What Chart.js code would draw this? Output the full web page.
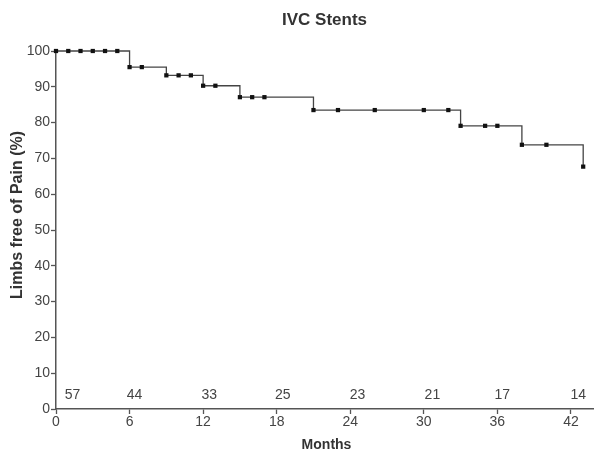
<!DOCTYPE html>
<html>
<head>
<meta charset="utf-8">
<script src="https://cdn.jsdelivr.net/npm/chart.js@4/dist/chart.umd.min.js"></script>
<style>
  body { margin: 0; background: #fff; overflow: hidden; }
</style>
</head>
<body>
<canvas id="myChart" width="597" height="454"></canvas>
<script>
// survival curve (months, % limbs free of pain)
const months = [0, 1, 2, 3, 4, 5, 6, 7, 9, 10, 11, 12, 13,
                15, 16, 17, 21, 23, 26, 30, 32, 33, 35, 36,
                38, 40, 43];
const painFree = [100, 100, 100, 100, 100, 100, 95.5, 95.5, 93.2, 93.2, 93.2, 90.3, 90.3,
                  87.1, 87.1, 87.1, 83.5, 83.5, 83.5, 83.5, 83.5, 79.1, 79.1, 79.1,
                  73.8, 73.8, 67.7];
// numbers at risk along the bottom
const riskMonths = [1.35, 6.4, 12.5, 18.5, 24.6, 30.7, 36.4, 42.6];
const riskCounts = [57, 44, 33, 25, 23, 21, 17, 14];
const riskLevel = 4;
const xTicks = [0, 6, 12, 18, 24, 30, 36, 42];

const textColor = '#444';
const fontName = "'Liberation Sans', Arial, sans-serif";

// title, axis titles and the at-risk numbers
const textPlugin = {
    id: 'texts',
    afterDraw(chart) {
        const ctx = chart.ctx;
        const xs = chart.scales.x;
        const ys = chart.scales.y;
        const mid = (xs.left + chart.width) / 2;
        ctx.save();
        ctx.fillStyle = '#333';
        ctx.textAlign = 'center';
        ctx.textBaseline = 'middle';
        ctx.font = "bold 17px " + fontName;
        ctx.fillText('IVC Stents', mid - 2, 20);
        ctx.font = "bold 14px " + fontName;
        ctx.fillText('Months', mid, 445);
        ctx.save();
        ctx.translate(17.5, 215);
        ctx.rotate(-Math.PI / 2);
        ctx.font = "bold 16px " + fontName;
        ctx.fillText('Limbs free of Pain (%)', 0, 0);
        ctx.restore();
        ctx.fillStyle = textColor;
        ctx.font = "14px " + fontName;
        for (let i = 0; i < riskCounts.length; i++) {
            ctx.fillText(String(riskCounts[i]), xs.getPixelForValue(riskMonths[i]), ys.getPixelForValue(riskLevel));
        }
        ctx.restore();
    }
};

const points = months.map((m, i) => ({x: m, y: painFree[i]}));

new Chart(document.getElementById('myChart'), {
    type: 'line',
    data: {
        datasets: [{
            data: points,
            stepped: 'before',
            borderColor: '#444',
            borderWidth: 1.3,
            pointStyle: 'rect',
            pointRadius: 3,
            pointBackgroundColor: '#111',
            pointBorderColor: '#111',
            pointBorderWidth: 0,
            clip: false
        }]
    },
    options: {
        responsive: false,
        animation: false,
        layout: { padding: { top: 51, left: 0, right: -4, bottom: 0 } },
        plugins: {
            legend: { display: false },
            tooltip: { enabled: false }
        },
        scales: {
            x: {
                type: 'linear',
                min: 0,
                max: 43.8,
                afterBuildTicks: s => { s.ticks = xTicks.map(v => ({value: v})); },
                afterFit: s => { s.height = 45; },
                grid: {
                    drawOnChartArea: false,
                    tickLength: 5,
                    color: '#555',
                    tickWidth: 1.3
                },
                border: { color: '#555', width: 1.5 },
                ticks: {
                    color: textColor,
                    padding: 0,
                    maxRotation: 0,
                    autoSkip: false,
                    font: { family: fontName, size: 14 }
                }
            },
            y: {
                min: 0,
                max: 100,
                afterFit: s => { s.width = 56; },
                grid: {
                    drawOnChartArea: false,
                    tickLength: 5,
                    color: '#555',
                    tickWidth: 1.3
                },
                border: { color: '#555', width: 1.5 },
                ticks: {
                    stepSize: 10,
                    color: textColor,
                    padding: 1,
                    font: { family: fontName, size: 14 }
                }
            }
        }
    },
    plugins: [textPlugin]
});
</script>
</body>
</html>
